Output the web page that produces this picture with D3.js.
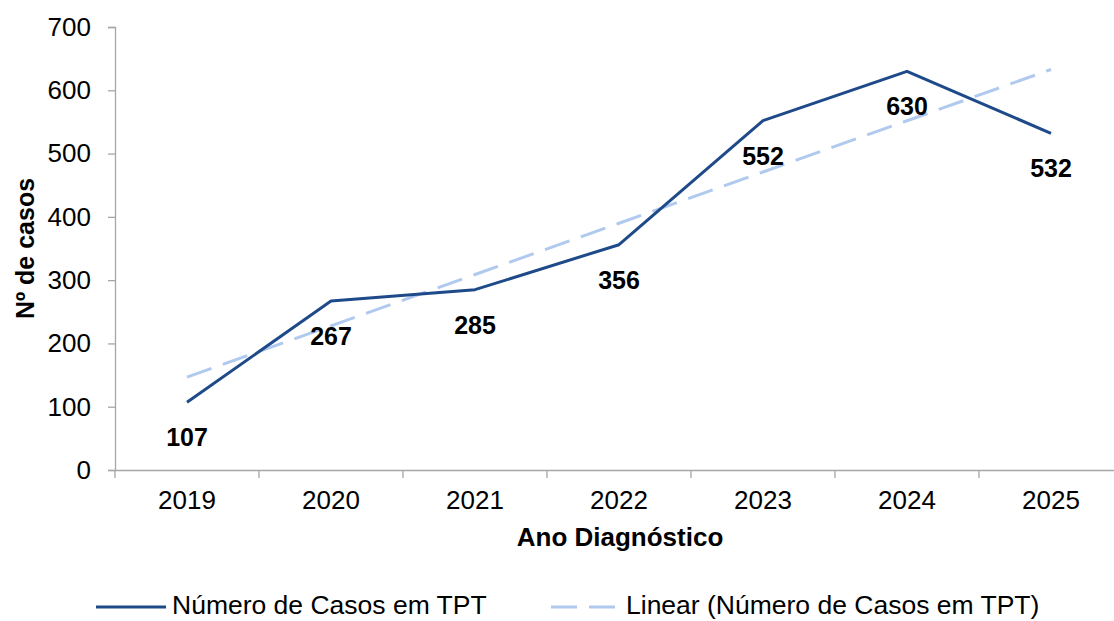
<!DOCTYPE html>
<html>
<head>
<meta charset="utf-8">
<script src="https://cdn.jsdelivr.net/npm/d3@7"></script>
<style>
  body { margin: 0; background: #fff; overflow: hidden; }
  svg { display: block; }
  text { font-family: "Liberation Sans", Arial, sans-serif; }
</style>
</head>
<body>
<div id="chart-area"></div>
<script>
var years = ["2019", "2020", "2021", "2022", "2023", "2024", "2025"];
var casos = [107, 267, 285, 356, 552, 630, 532];
var yTicks = [0, 100, 200, 300, 400, 500, 600, 700];
var serieNome = "Número de Casos em TPT";
var tendNome = "Linear (Número de Casos em TPT)";

// the plot area runs a bit past the right edge of the picture, like the original
var margin = {left: 115, top: 27, bottom: 151};
var width = 1008;
var height = 621 - margin.top - margin.bottom;

var svg = d3.select("#chart-area").append("svg")
    .attr("width", 1114)
    .attr("height", 621);

var g = svg.append("g")
    .attr("transform", "translate(" + margin.left + "," + margin.top + ")");

var x = d3.scaleBand().domain(years).range([0, width]);
var y = d3.scaleLinear().domain([0, 700]).range([height, 0]);

// least squares trend, like excel's linear trendline
var n = casos.length;
var mx = d3.mean(casos, function(d, i) { return i; });
var my = d3.mean(casos);
var slope = d3.sum(casos, function(d, i) { return (i - mx) * (d - my); }) /
            d3.sum(casos, function(d, i) { return (i - mx) * (i - mx); });
var trend = casos.map(function(d, i) { return my + slope * (i - mx); });

// axes
var yAxis = g.append("g")
    .call(d3.axisLeft(y).tickValues(yTicks).tickSize(7).tickPadding(17));
yAxis.select(".domain").attr("stroke", "#a6a6a6").attr("stroke-width", 1.3);
yAxis.selectAll(".tick line").attr("stroke", "#a6a6a6").attr("stroke-width", 1.3);
yAxis.selectAll("text").attr("font-size", "26px").attr("fill", "#000")
    .style("font-family", "Liberation Sans, Arial, sans-serif");

var xAxis = g.append("g")
    .attr("transform", "translate(0," + height + ")")
    .call(d3.axisBottom(x).tickSize(0).tickPadding(21));
xAxis.select(".domain").attr("stroke", "#a6a6a6").attr("stroke-width", 1.3);
xAxis.selectAll("text").attr("font-size", "26px").attr("fill", "#000")
    .style("font-family", "Liberation Sans, Arial, sans-serif");

// ticks between categories
g.selectAll(".xsep")
    .data(d3.range(n + 1))
    .enter().append("line")
    .attr("class", "xsep")
    .attr("x1", function(i) { return i * x.step(); })
    .attr("x2", function(i) { return i * x.step(); })
    .attr("y1", height)
    .attr("y2", height + 8)
    .attr("stroke", "#a6a6a6")
    .attr("stroke-width", 1.3);

var line = d3.line()
    .x(function(d, i) { return x(years[i]) + x.bandwidth() / 2; })
    .y(function(d) { return y(d); });

g.append("path")
    .datum(trend)
    .attr("d", line)
    .attr("fill", "none")
    .attr("stroke", "#b0c9ef")
    .attr("stroke-width", 3)
    .attr("stroke-dasharray", "26,12");

g.append("path")
    .datum(casos)
    .attr("d", line)
    .attr("fill", "none")
    .attr("stroke", "#1f4a8a")
    .attr("stroke-width", 3)
    .attr("stroke-linejoin", "round");

g.selectAll(".rotulo")
    .data(casos)
    .enter().append("text")
    .attr("class", "rotulo")
    .attr("x", function(d, i) { return x(years[i]) + x.bandwidth() / 2; })
    .attr("y", function(d) { return y(d) + 44; })
    .attr("text-anchor", "middle")
    .attr("font-size", "25px")
    .attr("font-weight", "bold")
    .text(function(d) { return d; });

// axis titles
svg.append("text")
    .attr("transform", "translate(34," + (margin.top + height / 2) + ") rotate(-90)")
    .attr("text-anchor", "middle")
    .attr("font-size", "25px")
    .attr("font-weight", "bold")
    .text("Nº de casos");

svg.append("text")
    .attr("x", 620)
    .attr("y", 546)
    .attr("text-anchor", "middle")
    .attr("font-size", "26px")
    .attr("font-weight", "bold")
    .text("Ano Diagnóstico");

// legend
var leg = svg.append("g").attr("transform", "translate(0,607)");
leg.append("line")
    .attr("x1", 96).attr("x2", 166).attr("y1", 0).attr("y2", 0)
    .attr("stroke", "#1f4a8a").attr("stroke-width", 3);
leg.append("text")
    .attr("x", 172).attr("y", 7)
    .attr("font-size", "26.5px")
    .text(serieNome);
leg.append("line")
    .attr("x1", 551).attr("x2", 622).attr("y1", 0).attr("y2", 0)
    .attr("stroke", "#b0c9ef").attr("stroke-width", 3)
    .attr("stroke-dasharray", "26,12");
leg.append("text")
    .attr("x", 626).attr("y", 7)
    .attr("font-size", "26.5px")
    .text(tendNome);
</script>
</body>
</html>
